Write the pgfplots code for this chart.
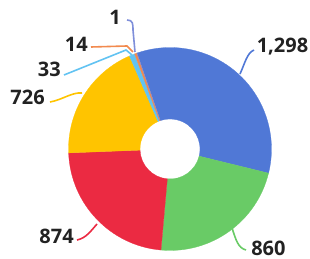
\documentclass[border=0pt]{standalone}
\usepackage{pgfplots}
\pgfplotsset{compat=1.18}
\usepackage{pgfplotstable}
\usepackage{fontspec}
\setmainfont{Open Sans}
\usetikzlibrary{calc}

\definecolor{cBlue}{HTML}{5078D6}
\definecolor{cGreen}{HTML}{69CB66}
\definecolor{cRed}{HTML}{EB2A42}
\definecolor{cYellow}{HTML}{FFC400}
\definecolor{cLight}{HTML}{62C3F2}
\definecolor{cOrange}{HTML}{F28A4E}
\definecolor{cPurple}{HTML}{7F8FDA}
\definecolor{cText}{HTML}{222222}

\pgfplotstableread{
value col
1298 cBlue
860 cGreen
874 cRed
726 cYellow
33 cLight
14 cOrange
1 cPurple
}\slices

\begin{document}
\begin{tikzpicture}
\pgfplotstablegetrowsof{\slices}
\pgfmathtruncatemacro{\nrows}{\pgfplotsretval-1}
\def\total{0}
\pgfplotsforeachungrouped \i in {0,...,\nrows}{%
  \pgfplotstablegetelem{\i}{value}\of\slices
  \pgfmathsetmacro{\total}{\total+\pgfplotsretval}%
}
\def\acur{109}
\pgfplotsforeachungrouped \i in {0,...,\nrows}{%
  \pgfplotstablegetelem{\i}{value}\of\slices
  \pgfmathsetmacro{\aend}{\acur-360*(\pgfplotsretval/\total)}%
  \expandafter\xdef\csname aS\i\endcsname{\acur}%
  \expandafter\xdef\csname aE\i\endcsname{\aend}%
  \pgfplotstablegetelem{\i}{col}\of\slices
  \edef\tmp{\noexpand\colorlet{slice\i}{\pgfplotsretval}}\tmp
  \let\acur\aend
}
\useasboundingbox (0,0) rectangle (232.5pt,194.25pt);
\begin{axis}[at={(0,0)}, anchor=south west, x=0.75pt, y=0.75pt,
  xmin=0, xmax=310, ymin=0, ymax=259, hide axis, clip=false]
\pgfplotsinvokeforeach{0,...,6}{%
  \edef\doslice{\noexpand\fill[fill=slice#1, draw=slice#1, line width=0.2pt]
    ($(axis cs:170,110)+(\csname aS#1\endcsname:76.1pt)$)
    arc[start angle=\csname aS#1\endcsname, end angle=\csname aE#1\endcsname, radius=76.1pt]
    -- ($(axis cs:170,110)+(\csname aE#1\endcsname:22.5pt)$)
    arc[start angle=\csname aE#1\endcsname, end angle=\csname aS#1\endcsname, radius=22.5pt]
    -- cycle;}%
  \doslice
}
\tikzset{lbl/.style={inner sep=0pt, text=cText, font=\fontsize{15}{18}\selectfont\bfseries},
  ld/.style={line width=1.2pt}}
% leaders
\draw[ld, cBlue] (axis cs:240,185) .. controls (axis cs:245,196) and (axis cs:247,206) .. (axis cs:254,209);
\node[lbl, anchor=west] at (axis cs:256.5,212) {1,298};
\draw[ld, cGreen] (axis cs:232,31) .. controls (axis cs:236,19) and (axis cs:238,11) .. (axis cs:246,9);
\node[lbl, anchor=west] at (axis cs:251,11) {860};
\draw[ld, cRed] (axis cs:97,35) .. controls (axis cs:90,27) and (axis cs:86,21) .. (axis cs:77,19);
\node[lbl, anchor=east] at (axis cs:74,23) {874};
\draw[ld, cYellow] (axis cs:50,157) .. controls (axis cs:62,159) and (axis cs:72,167) .. (axis cs:82,166);
\node[lbl, anchor=east] at (axis cs:45,162) {726};
\draw[ld, cLight] (axis cs:64,184) -- (axis cs:126,209) -- (axis cs:132,204);
\node[lbl, anchor=east] at (axis cs:61,190) {33};
\draw[ld, cOrange] (axis cs:91,212) -- (axis cs:127,213) -- (axis cs:133,207);
\node[lbl, anchor=east] at (axis cs:88,215) {14};
\draw[ld, cPurple] (axis cs:127,239) .. controls (axis cs:133,239) and (axis cs:133,235) .. (axis cs:133,229) -- (axis cs:135,207);
\node[lbl, anchor=east] at (axis cs:121,242) {1};
\end{axis}
\end{tikzpicture}
\end{document}
